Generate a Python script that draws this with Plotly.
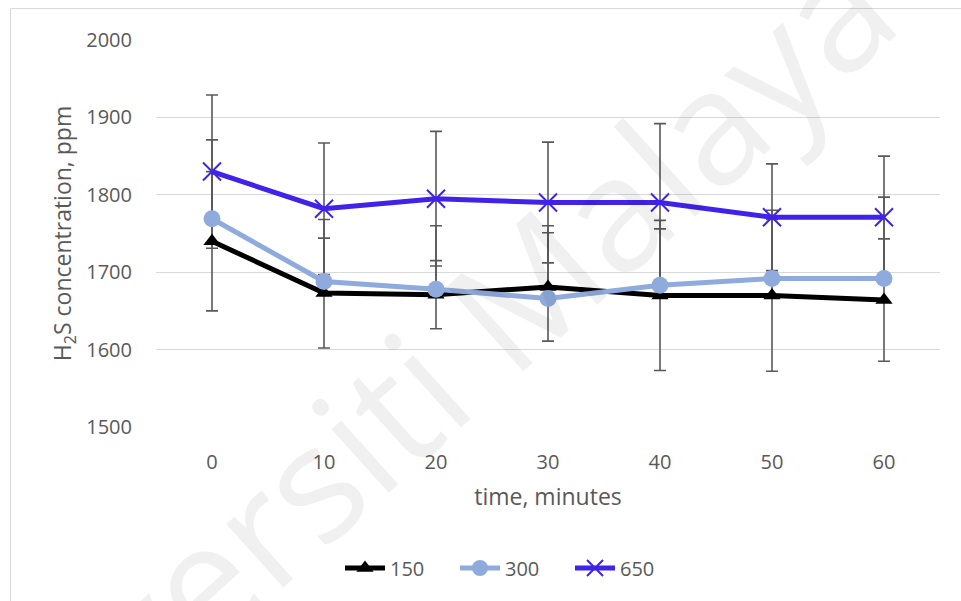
import plotly.graph_objects as go

time = [0, 10, 20, 30, 40, 50, 60]
s150 = [1740, 1673, 1671, 1681, 1670, 1670, 1664]
s300 = [1769, 1688, 1678, 1666, 1683, 1692, 1692]
s650 = [1830, 1782, 1795, 1790, 1790, 1771, 1771]
err150 = [90, 71, 44, 70, 97, 98, 79]
err300_plus = [102, 80, 82, 94, 73, 88, 105]
err650 = [99, 85, 87, 78, 102, 69, 79]
names = ["150", "300", "650"]

W, H = 961, 601
L, R, T, B = 156, 21, 40, 174
pw, ph = W - L - R, H - T - B

def px(x):
    return (x - L) / pw

def py(y):
    return (H - B - y) / ph

GRAY = "#595959"
FONT = "Open Sans"

fig = go.Figure()

# error bars first (behind all lines and markers)
eb = dict(type="data", color=GRAY, thickness=1.6, width=6)
fig.add_trace(go.Scatter(x=time, y=s150, mode="markers", marker=dict(opacity=0),
                         error_y=dict(array=err150, symmetric=True, **eb),
                         showlegend=False, hoverinfo="skip"))
fig.add_trace(go.Scatter(x=time, y=s300, mode="markers", marker=dict(opacity=0),
                         error_y=dict(array=err300_plus, arrayminus=[0] * len(time),
                                      symmetric=False, **eb),
                         showlegend=False, hoverinfo="skip"))
fig.add_trace(go.Scatter(x=time, y=s650, mode="markers", marker=dict(opacity=0),
                         error_y=dict(array=err650, symmetric=True, **eb),
                         showlegend=False, hoverinfo="skip"))

fig.add_trace(go.Scatter(x=time, y=s150, name=names[0], mode="lines+markers",
                         line=dict(color="#000000", width=5),
                         marker=dict(symbol="triangle-up", size=15, color="#000000")))
fig.add_trace(go.Scatter(x=time, y=s300, name=names[1], mode="lines+markers",
                         line=dict(color="#8FAADC", width=5),
                         marker=dict(symbol="circle", size=17, color="#8FAADC")))
fig.add_trace(go.Scatter(x=time, y=s650, name=names[2], mode="lines+markers",
                         line=dict(color="#4122E8", width=5),
                         marker=dict(symbol="x-thin-open", size=18,
                                     line=dict(color="#4122E8", width=2))))

fig.update_layout(
    width=W, height=H,
    margin=dict(l=L, r=R, t=T, b=B),
    paper_bgcolor="white", plot_bgcolor="white",
    font=dict(family=FONT, size=20, color=GRAY),
    showlegend=True,
    legend=dict(orientation="h", x=px(340), xanchor="left", y=py(568), yanchor="middle",
                font=dict(size=20, color=GRAY), itemwidth=40, traceorder="normal",
                entrywidth=60, entrywidthmode="pixels"),
)

fig.update_xaxes(range=[-5, 65], tickmode="array", tickvals=time,
                 ticktext=[str(t) for t in time], showgrid=False, zeroline=False,
                 showline=False, ticks="", ticklabelstandoff=21,
                 tickfont=dict(size=20, color=GRAY),
                 title=dict(text="time, minutes", standoff=14, font=dict(size=23, color=GRAY)))
fig.update_yaxes(range=[1500, 2000], dtick=100, showgrid=True, gridcolor="#D9D9D9",
                 gridwidth=1.3, zeroline=False, showline=False, ticks="", ticklabelstandoff=23,
                 tickfont=dict(size=20, color=GRAY),
                 title=dict(text="H<sub>2</sub>S concentration, ppm", standoff=8,
                            font=dict(size=23, color=GRAY)))

# chart-area border
fig.add_shape(type="rect", xref="paper", yref="paper",
              x0=px(10.5), x1=px(1200), y0=py(800), y1=py(8.5),
              line=dict(color="#D9D9D9", width=1), layer="below")

# watermark
fig.add_annotation(text="Universiti Malaya", xref="paper", yref="paper",
                   x=px(390), y=py(408), xanchor="center", yanchor="middle",
                   showarrow=False, textangle=-42,
                   font=dict(family=FONT, size=160, color="rgba(0,0,0,0.06)"))

fig.write_html("out.html")
